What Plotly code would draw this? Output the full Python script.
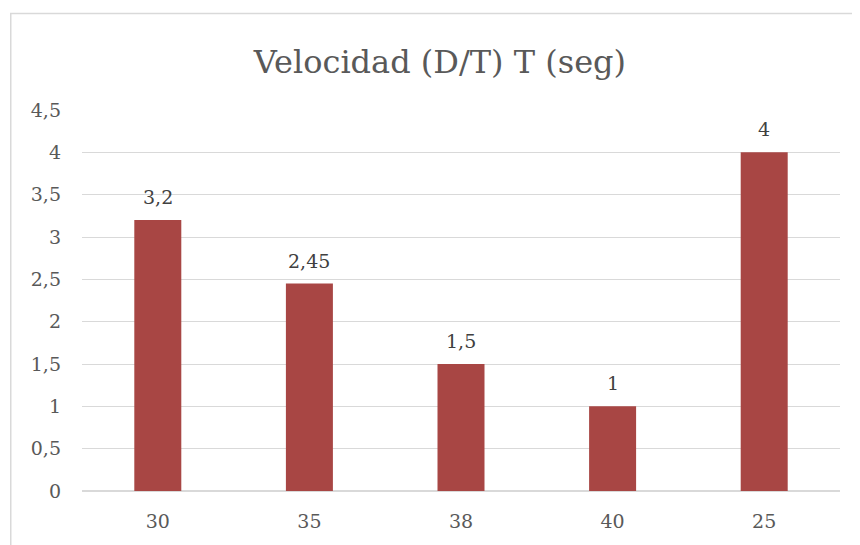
import plotly.graph_objects as go

categories = ["30", "35", "38", "40", "25"]
values = [3.2, 2.45, 1.5, 1, 4]
y_ticks = [0, 0.5, 1, 1.5, 2, 2.5, 3, 3.5, 4, 4.5]
title_text = "Velocidad (D/T) T (seg)"

FONT = "DejaVu Serif"
GREY = "#595959"
BAR = "#A84644"

def fmt(v):
    return f"{v:g}".replace(".", ",")

fig = go.Figure()
fig.add_trace(go.Bar(x=categories, y=values, marker=dict(color=BAR, line=dict(width=0)),
                     width=0.31, hoverinfo="skip"))

for i, v in enumerate(values):
    fig.add_annotation(x=i, y=v, text=fmt(v), showarrow=False, yanchor="bottom",
                       yshift=10, font=dict(family=FONT, size=19, color="#404040"))

fig.add_shape(type="rect", xref="paper", yref="paper", x0=-0.094, x1=1.2, y0=-0.3, y1=1.2533,
              line=dict(color="#D9D9D9", width=1.5), fillcolor="rgba(0,0,0,0)", layer="below")

# page body has an 8px margin: shrink the figure so the plot area lands where the reference has it
fig.update_layout(
    width=852, height=537,
    margin=dict(l=74, r=20, t=102, b=54),
    paper_bgcolor="white", plot_bgcolor="white",
    separators=",.",
    showlegend=False,
    title=dict(text=title_text, x=0.507, xanchor="center", y=1 - 54 / 537, yanchor="middle",
               font=dict(family=FONT, size=32, color=GREY)),
    xaxis=dict(type="category", range=[-0.5, 4.5], showgrid=False, showline=False, zeroline=False,
               tickfont=dict(family=FONT, size=19, color=GREY), ticks="", ticklabelstandoff=17),
    yaxis=dict(range=[0, 4.5], tickvals=y_ticks, ticktext=[fmt(t) for t in y_ticks],
               showgrid=True, gridcolor="#D9D9D9", gridwidth=1, zeroline=True,
               zerolinecolor="#D9D9D9", zerolinewidth=1.5, showline=False,
               tickfont=dict(family=FONT, size=19, color=GREY), ticks="", ticklabelstandoff=20),
)

fig.write_html("out.html")
